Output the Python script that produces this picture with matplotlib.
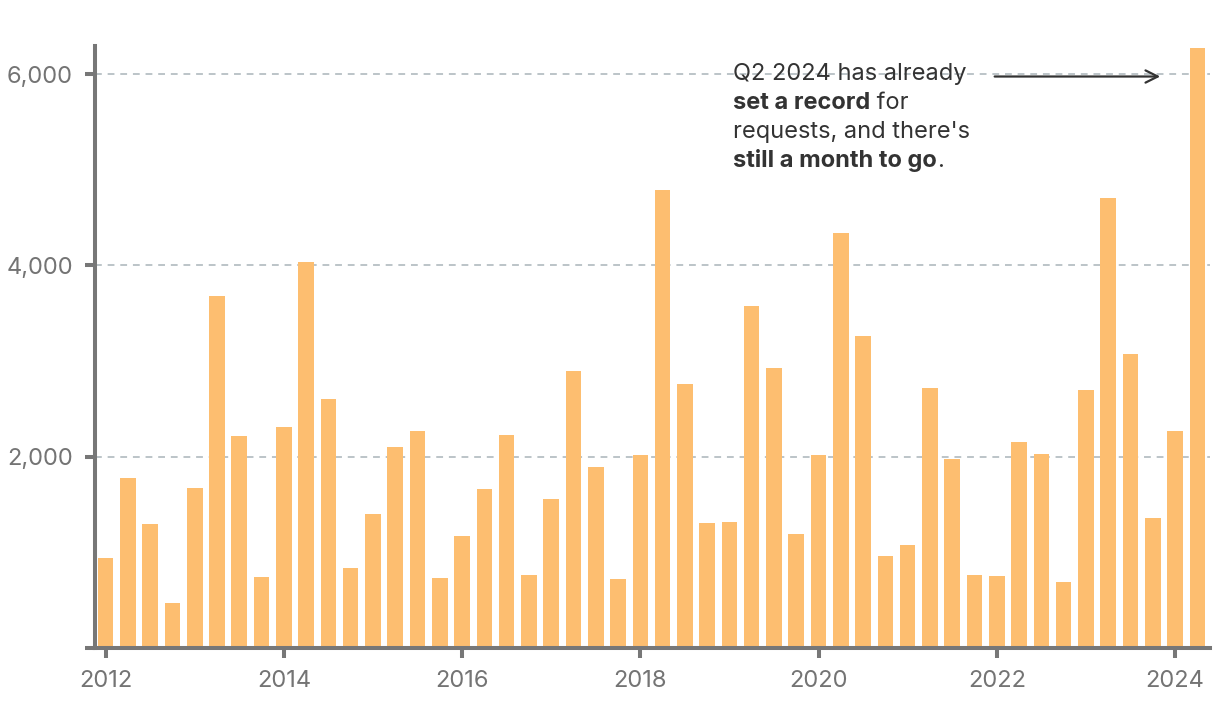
import matplotlib.pyplot as plt
import numpy as np

# quarterly requests, Q1 2012 .. Q2 2024
quarters = [f"{y} Q{q}" for y in range(2012, 2025) for q in range(1, 5)][:50]
requests = [
    940, 1776, 1296, 470,
    1672, 3678, 2215, 742,
    2309, 4033, 2602, 836,
    1400, 2100, 2267, 731,
    1170, 1661, 2226, 763,
    1557, 2894, 1891, 721,
    2017, 4788, 2759, 1306,
    1317, 3574, 2926, 1191,
    2017, 4339, 3260, 961,
    1076, 2717, 1975, 763,
    752, 2153, 2027, 690,
    2696, 4702, 3072, 1358,
    2267, 6273,
]
year_ticks = [2012, 2014, 2016, 2018, 2020, 2022, 2024]
y_ticks = [0, 2000, 4000, 6000]
y_labels = ["", "2,000", "4,000", "6,000"]

bar_color = "#fdbe70"
axis_color = "#777777"
grid_color = "#bcc4c8"
text_color = "#333333"

plt.rcParams["font.family"] = ["Inter", "DejaVu Sans"]

W, H = 1220, 712
fig = plt.figure(figsize=(W / 100, H / 100), dpi=100)
ax = fig.add_axes([95 / W, 64 / H, (1210 - 95) / W, (648 - 46) / H])

x = np.arange(len(requests))
ax.bar(x, requests, width=0.7, color=bar_color, zorder=2)

ax.set_xlim(-0.475, 49.57)
ax.set_ylim(0, 6294)

# x ticks on the first quarter of even years
ax.set_xticks([quarters.index(f"{y} Q1") for y in year_ticks])
ax.set_xticklabels([str(y) for y in year_ticks])
ax.set_yticks(y_ticks)
ax.set_yticklabels(y_labels)

for yv in y_ticks[1:]:
    ax.axhline(yv, color=grid_color, lw=1.4, ls=(0, (3.5, 3)), zorder=1)

for s in ["top", "right"]:
    ax.spines[s].set_visible(False)
for s in ["left", "bottom"]:
    ax.spines[s].set_color(axis_color)
    ax.spines[s].set_linewidth(2.9)
    ax.spines[s].set_zorder(3)

ax.tick_params(axis="both", colors=axis_color, labelcolor="#747474",
               width=2.9, length=7, labelsize=17)
ax.tick_params(axis="x", pad=9)
ax.tick_params(axis="y", pad=9)

# arrow pointing at the record quarter
ax.annotate("", xy=(47.46, 5975), xytext=(39.78, 5975),
            arrowprops=dict(arrowstyle="->", color=text_color, lw=1.6,
                            mutation_scale=22), zorder=4)

# annotation with mixed weights, laid out in figure pixels
fig.canvas.draw()
renderer = fig.canvas.get_renderer()
lines = [
    [("Q2 2024 has already", "normal")],
    [("set a record", "bold"), (" for", "normal")],
    [("requests, and there's", "normal")],
    [("still a month to go", "bold"), (".", "normal")],
]
x0, y0, step = 733, 80, 29
for i, parts in enumerate(lines):
    xp = x0
    for txt, weight in parts:
        t = fig.text(xp / W, (H - (y0 + i * step)) / H, txt, fontsize=17,
                     fontweight=weight, color=text_color, va="baseline",
                     ha="left")
        xp += t.get_window_extent(renderer).width

fig.savefig("out.png", dpi=100)
